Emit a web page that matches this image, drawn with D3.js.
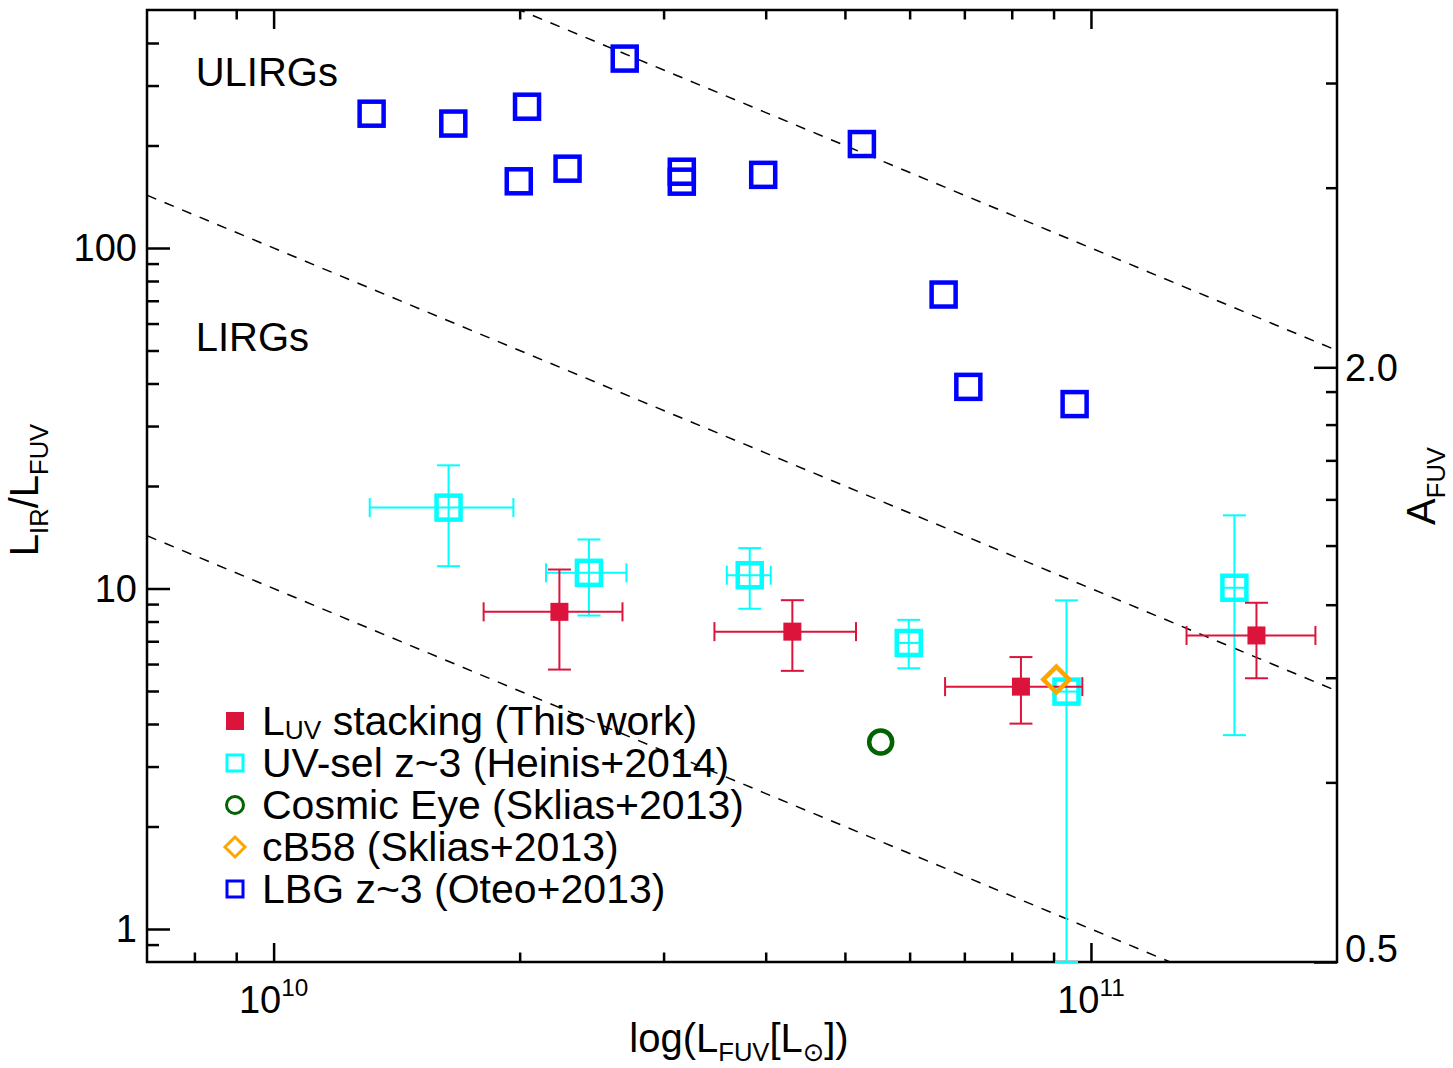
<!DOCTYPE html>
<html>
<head>
<meta charset="utf-8">
<script src="https://cdn.jsdelivr.net/npm/d3@7"></script>
<style>
  body { margin: 0; background: #fff; }
  svg { display: block; }
  text { font-family: "Liberation Sans", Arial, Helvetica, sans-serif; fill: #000; }
</style>
</head>
<body>
<svg id="chart" width="1453" height="1068"></svg>
<script>
// ---------- data ----------
// LBG z~3 (Oteo+2013): L_FUV [L_sun] and L_IR/L_FUV
const lbgL   = [1.318e10, 1.659e10, 2.042e10, 2.689e10, 1.995e10, 2.289e10, 3.158e10, 3.158e10, 3.972e10, 5.245e10, 6.603e10, 7.079e10, 9.55e10];
const lbgIRX = [248, 232, 260, 360, 157, 171, 167.5, 156.6, 164, 202, 73, 39.1, 34.8];

// L_UV stacking (this work) with error ranges
const stackL    = [2.237e10, 4.312e10, 8.21e10, 1.594e11];
const stackLlo  = [1.807e10, 3.462e10, 6.63e10, 1.309e11];
const stackLhi  = [2.672e10, 5.159e10, 9.76e10, 1.882e11];
const stackIRX  = [8.54, 7.47, 5.15, 7.28];
const stackIRXlo = [5.78, 5.73, 4.01, 5.45];
const stackIRXhi = [11.37, 9.24, 6.29, 9.08];

// UV-selected z~3 (Heinis+2014)
const heinisL    = [1.637e10, 2.431e10, 3.824e10, 5.985e10, 9.334e10, 1.498e11];
const heinisLlo  = [1.311e10, 2.154e10, 3.585e10, 5.78e10, 9.02e10, 1.448e11];
const heinisLhi  = [1.965e10, 2.702e10, 4.057e10, 6.19e10, 9.65e10, 1.55e11];
const heinisIRX  = [17.28, 11.12, 10.94, 6.92, 4.98, 10.05];
const heinisIRXlo = [11.63, 8.33, 8.72, 5.83, 0.8, 3.71];
const heinisIRXhi = [23.0, 13.93, 13.14, 8.09, 9.23, 16.4];

// Lensed galaxies (Sklias+2013)
const cosmicEyeL = [5.53e10];
const cosmicEyeIRX = [3.54];
const cb58L = [9.07e10];
const cb58IRX = [5.40];

// constant L_IR lines [L_sun]
const lirLevels = [1e11, 1e12, 1e13];

// region labels: text, L_FUV, IRX (baseline)
const regionNames = ["ULIRGs", "LIRGs"];
const regionL = [8.03e9, 8.03e9];
const regionIRX = [300, 50];

// axis ticks
const xMajor = [1e10, 1e11];
const xMajorExp = ["10", "11"];
const xMinor = [8e9, 9e9, 2e10, 3e10, 4e10, 5e10, 6e10, 7e10, 8e10, 9e10];
const yMajor = [1, 10, 100];
const yMinor = [0.9, 2, 3, 4, 5, 6, 7, 8, 9, 20, 30, 40, 50, 60, 70, 80, 90, 200, 300, 400];
const aMajor = [2.0, 0.5];
const aMinor = [3.88, 3.04, 1.89, 1.75, 1.61, 1.47, 1.32, 1.15, 0.97, 0.76];

// legend entries
const legendLabels = [
  [["L", 0], ["UV", -1], [" stacking (This work)", 0]],
  [["UV-sel z~3 (Heinis+2014)", 0]],
  [["Cosmic Eye (Sklias+2013)", 0]],
  [["cB58 (Sklias+2013)", 0]],
  [["LBG z~3 (Oteo+2013)", 0]]
];

// ---------- colours ----------
const cRed = "#dc143c", cCyan = "#00ffff", cGreen = "#006400", cOrange = "#ffa500", cBlue = "#0000ff";

// ---------- layout ----------
const X0 = 147, X1 = 1337, Y0 = 10, Y1 = 962;
const x = d3.scaleLog().domain([7e9, 2e11]).range([X0, X1]);
const y = d3.scaleLog().domain([0.8, 500]).range([Y1, Y0]);
const yA = d3.scaleLog().domain([0.5, 4.6]).range([Y1, Y0]);

const svg = d3.select("#chart");

svg.append("defs").append("clipPath").attr("id", "plotclip")
  .append("rect").attr("x", X0).attr("y", Y0).attr("width", X1 - X0).attr("height", Y1 - Y0);

// rich text helper: parts = [[string, mode]], mode 0 normal, -1 subscript, 1 superscript
function rich(textSel, parts, size, subShift = 0.26) {
  let prev = 0;
  parts.forEach(([t, m]) => {
    const fs = m === 0 ? size : size * 0.64;
    const off = m === -1 ? size * subShift : (m === 1 ? -size * 0.45 : 0);
    const ts = textSel.append("tspan").attr("font-size", fs).attr("dy", off - prev).text(t);
    if (t === "\u2299") ts.style("font-family", "'DejaVu Sans', sans-serif");
    prev = off;
  });
}

// ---------- frame ----------
svg.append("rect").attr("x", X0).attr("y", Y0).attr("width", X1 - X0).attr("height", Y1 - Y0)
  .attr("fill", "none").attr("stroke", "#000").attr("stroke-width", 2.5);

function ticks(axisFn, scale, values, len, transform) {
  const g = svg.append("g").attr("transform", transform)
    .call(axisFn(scale).tickValues(values).tickSize(-len).tickSizeOuter(0).tickFormat(""));
  g.select(".domain").remove();
  g.selectAll("line").attr("stroke", "#000").attr("stroke-width", 2.5);
  return g;
}

// bottom & top
ticks(d3.axisBottom, x, xMajor, 19, `translate(0,${Y1})`);
ticks(d3.axisBottom, x, xMinor, 9.5, `translate(0,${Y1})`);
ticks(d3.axisTop, x, xMajor, 19, `translate(0,${Y0})`);
ticks(d3.axisTop, x, xMinor, 9.5, `translate(0,${Y0})`);
// left
ticks(d3.axisLeft, y, yMajor, 23, `translate(${X0},0)`);
ticks(d3.axisLeft, y, yMinor, 12, `translate(${X0},0)`);
// right (A_FUV)
ticks(d3.axisRight, yA, aMajor, 23, `translate(${X1},0)`);
ticks(d3.axisRight, yA, aMinor, 11, `translate(${X1},0)`);

// tick labels
const tickFont = 38;
svg.append("g").selectAll("text").data(yMajor).join("text")
  .attr("x", X0 - 10).attr("y", d => y(d)).attr("dy", "0.35em")
  .attr("text-anchor", "end").attr("font-size", tickFont).text(d => d3.format("d")(d));

svg.append("g").selectAll("text").data(aMajor).join("text")
  .attr("x", X1 + 8).attr("y", d => yA(d)).attr("dy", (d, i) => i === aMajor.length - 1 ? "0.0em" : "0.35em")
  .attr("text-anchor", "start").attr("font-size", tickFont).text(d => d3.format(".1f")(d));

xMajor.forEach((v, i) => {
  const t = svg.append("text").attr("x", x(v)).attr("y", 1013).attr("text-anchor", "middle");
  rich(t, [["10", 0], [xMajorExp[i], 1]], 38);
});

// axis titles
{
  const t = svg.append("text").attr("x", 739).attr("y", 1052).attr("text-anchor", "middle");
  rich(t, [["log(L", 0], ["FUV", -1], ["[L", 0], ["\u2299", -1], ["])", 0]], 40, 0.22);
}
{
  const t = svg.append("text").attr("transform", "translate(38,490) rotate(-90)").attr("text-anchor", "middle");
  rich(t, [["L", 0], ["IR", -1], ["/L", 0], ["FUV", -1]], 40);
}
{
  const t = svg.append("text").attr("transform", "translate(1435,486) rotate(-90)").attr("text-anchor", "middle");
  rich(t, [["A", 0], ["FUV", -1]], 40);
}

// ---------- constant L_IR lines ----------
const lineGen = d3.line().x(d => x(d[0])).y(d => y(d[1]));
svg.append("g").attr("clip-path", "url(#plotclip)")
  .selectAll("path").data(lirLevels).join("path")
  .attr("d", lir => lineGen(x.domain().map(L => [L, lir / L])))
  .attr("fill", "none").attr("stroke", "#000").attr("stroke-width", 1.5)
  .attr("stroke-dasharray", "10,9");

// region labels
svg.append("g").selectAll("text").data(regionNames).join("text")
  .attr("x", (d, i) => x(regionL[i])).attr("y", (d, i) => y(regionIRX[i]))
  .attr("font-size", 40).text(d => d);

// ---------- error bars ----------
function errorBars(g, color, L, Llo, Lhi, R, Rlo, Rhi) {
  const capY = 11.5, capX = 9.5;
  L.forEach((l, i) => {
    const cx = x(l), cy = y(R[i]);
    const gg = g.append("g").attr("stroke", color).attr("stroke-width", 2);
    // vertical
    gg.append("line").attr("x1", cx).attr("x2", cx).attr("y1", y(Rlo[i])).attr("y2", y(Rhi[i]));
    gg.append("line").attr("x1", cx - capY).attr("x2", cx + capY).attr("y1", y(Rlo[i])).attr("y2", y(Rlo[i]));
    gg.append("line").attr("x1", cx - capY).attr("x2", cx + capY).attr("y1", y(Rhi[i])).attr("y2", y(Rhi[i]));
    // horizontal
    gg.append("line").attr("x1", x(Llo[i])).attr("x2", x(Lhi[i])).attr("y1", cy).attr("y2", cy);
    gg.append("line").attr("x1", x(Llo[i])).attr("x2", x(Llo[i])).attr("y1", cy - capX).attr("y2", cy + capX);
    gg.append("line").attr("x1", x(Lhi[i])).attr("x2", x(Lhi[i])).attr("y1", cy - capX).attr("y2", cy + capX);
  });
}

const data = svg.append("g");

// Heinis+2014
errorBars(data.append("g"), cCyan, heinisL, heinisLlo, heinisLhi, heinisIRX, heinisIRXlo, heinisIRXhi);
data.append("g").selectAll("rect").data(heinisL).join("rect")
  .attr("x", d => x(d) - 12).attr("y", (d, i) => y(heinisIRX[i]) - 12)
  .attr("width", 24).attr("height", 24)
  .attr("fill", "none").attr("stroke", cCyan).attr("stroke-width", 4.5);

// stacking (this work)
errorBars(data.append("g"), cRed, stackL, stackLlo, stackLhi, stackIRX, stackIRXlo, stackIRXhi);
data.append("g").selectAll("rect").data(stackL).join("rect")
  .attr("x", d => x(d) - 9).attr("y", (d, i) => y(stackIRX[i]) - 9)
  .attr("width", 18).attr("height", 18).attr("fill", cRed);

// Cosmic Eye
data.append("g").selectAll("circle").data(cosmicEyeL).join("circle")
  .attr("cx", d => x(d)).attr("cy", (d, i) => y(cosmicEyeIRX[i])).attr("r", 11.5)
  .attr("fill", "none").attr("stroke", cGreen).attr("stroke-width", 4.5);

// cB58
data.append("g").selectAll("path").data(cb58L).join("path")
  .attr("transform", (d, i) => `translate(${x(d)},${y(cb58IRX[i])})`)
  .attr("d", "M0,-13L13,0L0,13L-13,0Z")
  .attr("fill", "none").attr("stroke", cOrange).attr("stroke-width", 4.5);

// LBGs (Oteo+2013)
data.append("g").selectAll("rect").data(lbgL).join("rect")
  .attr("x", d => x(d) - 12).attr("y", (d, i) => y(lbgIRX[i]) - 12)
  .attr("width", 24).attr("height", 24)
  .attr("fill", "none").attr("stroke", cBlue).attr("stroke-width", 4.5);

// ---------- legend ----------
const lg = svg.append("g");
const legX = 235, legY = 721, legStep = 42;
const symbols = [
  g => g.append("rect").attr("x", -9).attr("y", -9).attr("width", 18).attr("height", 18).attr("fill", cRed),
  g => g.append("rect").attr("x", -8).attr("y", -8).attr("width", 16).attr("height", 16).attr("fill", "none").attr("stroke", cCyan).attr("stroke-width", 3),
  g => g.append("circle").attr("r", 8.5).attr("fill", "none").attr("stroke", cGreen).attr("stroke-width", 3),
  g => g.append("path").attr("d", "M0,-10L10,0L0,10L-10,0Z").attr("fill", "none").attr("stroke", cOrange).attr("stroke-width", 3),
  g => g.append("rect").attr("x", -8).attr("y", -8).attr("width", 16).attr("height", 16).attr("fill", "none").attr("stroke", cBlue).attr("stroke-width", 3)
];
legendLabels.forEach((parts, i) => {
  const row = lg.append("g").attr("transform", `translate(${legX},${legY + i * legStep})`);
  symbols[i](row);
  const t = row.append("text").attr("x", 27).attr("y", 14);
  rich(t, parts, 41, 0.1);
});
</script>
</body>
</html>
